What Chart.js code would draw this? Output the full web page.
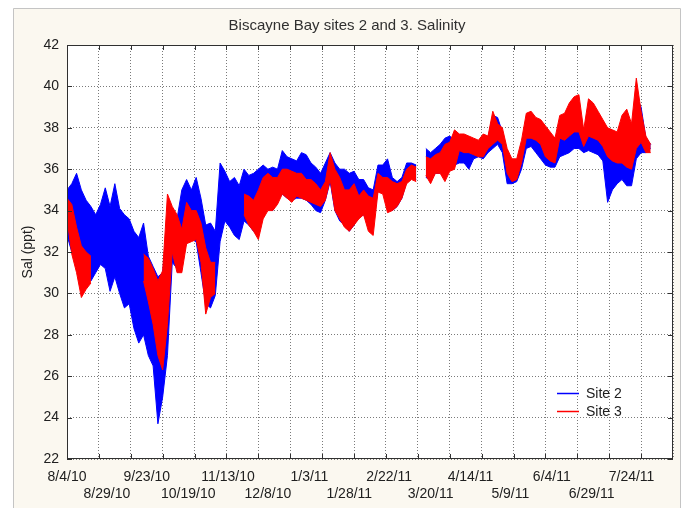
<!DOCTYPE html>
<html>
<head>
<meta charset="utf-8">
<script src="https://cdn.jsdelivr.net/npm/chart.js@4.4.0/dist/chart.umd.min.js"></script>
<style>
  html, body { margin: 0; padding: 0; background: #fff; }
  #wrap { width: 684px; height: 508px; }
</style>
</head>
<body>
<div id="wrap"><canvas id="salChart" width="684" height="508"></canvas></div>
<script>
// ---- DATA ----
// salinity (ppt), daily high / low envelope every 3 days from 8/4/10
const START_DATE = '8/4/10';
const SAMPLE_STEP_DAYS = 3;
const tickLabels = ['8/4/10','8/29/10','9/23/10','10/19/10','11/13/10','12/8/10','1/3/11','1/28/11',
  '2/22/11','3/20/11','4/14/11','5/9/11','6/4/11','6/29/11','7/24/11'];
const yTicks = [22, 24, 26, 28, 30, 32, 34, 36, 38, 40, 42];

const site2High = [
  35.0,35.3,35.8,35.0,34.5,34.2,33.8,34.3,35.1,34.2,
  35.3,34.1,33.8,33.6,33.0,32.7,33.4,31.8,31.3,30.8,
  31.0,33.5,33.8,33.6,35.0,35.5,35.0,35.6,34.6,33.3,
  33.4,33.0,36.3,35.9,35.4,35.6,35.2,36.0,35.7,35.8,
  36.0,36.2,36.0,36.1,36.0,36.9,36.6,36.5,36.4,36.8,
  36.7,36.3,36.1,35.8,36.3,36.8,36.3,36.0,36.0,35.8,
  35.9,35.5,35.5,35.1,35.0,36.2,36.2,36.5,35.6,35.4,
  35.6,36.3,36.3,36.2,null,37.0,36.8,37.0,37.2,37.5,
  37.6,37.4,37.3,37.5,37.4,37.3,37.2,37.4,37.5,38.6,
  38.5,37.8,36.8,36.3,36.2,37.0,38.0,38.3,38.0,37.8,
  37.5,37.2,37.0,37.8,37.8,38.0,38.2,38.2,37.5,38.0,
  38.0,37.8,37.6,37.0,36.8,37.0,37.2,37.0,36.8,39.5,
  39.0,37.5,37.2
];
const site2Low = [
  32.8,32.0,31.6,31.3,31.0,30.6,31.0,31.4,31.2,30.1,
  30.8,30.0,29.3,29.5,28.3,27.6,28.0,27.0,26.5,23.7,
  25.0,27.0,31.5,31.2,31.5,32.5,32.6,32.5,31.0,29.5,
  29.3,29.9,32.5,33.5,33.2,32.8,32.6,33.5,33.3,33.0,
  32.8,34.0,34.2,34.0,34.5,34.8,34.6,34.5,34.6,34.6,
  34.5,34.3,34.0,33.9,34.5,35.4,34.0,33.5,33.3,33.0,
  33.3,33.7,33.8,33.3,33.5,35.0,35.0,34.5,34.0,34.2,
  34.6,35.4,35.6,35.5,null,35.6,35.5,35.8,35.8,35.9,
  36.0,36.2,36.3,36.3,36.0,36.5,36.6,36.5,36.8,37.0,
  37.2,36.8,35.3,35.3,35.4,36.0,37.0,37.1,36.8,36.5,
  36.2,36.1,36.1,36.6,36.7,36.8,37.0,37.0,36.8,36.9,
  36.8,36.7,36.4,34.4,35.0,35.3,35.5,35.2,35.2,36.5,
  36.8,36.8,37.0
];
const site3High = [
  34.6,34.3,33.2,32.3,32.0,31.8,null,null,null,null,
  null,null,null,null,null,null,31.9,31.7,31.2,30.6,
  31.1,34.8,34.2,33.8,33.1,34.4,34.0,34.0,33.4,32.2,
  31.5,31.5,null,null,null,null,null,34.8,34.7,34.5,
  35.0,35.6,35.8,35.6,35.6,36.0,36.0,35.9,35.8,35.8,
  35.5,35.5,35.3,35.0,35.4,36.8,36.0,35.6,35.0,35.0,
  35.3,34.7,35.0,34.7,34.6,35.8,35.6,35.6,35.4,35.3,
  35.4,36.0,36.2,36.1,null,36.6,36.5,36.7,36.8,37.2,
  37.3,37.9,37.7,37.7,37.6,37.5,37.4,37.7,37.6,38.8,
  38.2,38.0,37.0,36.5,36.5,37.4,38.7,38.8,38.5,38.4,
  38.1,37.8,37.5,38.6,38.7,39.2,39.5,39.6,37.9,39.4,
  39.2,38.8,38.4,38.0,37.9,37.8,38.6,38.9,38.2,40.4,
  38.8,37.6,37.2
];
const site3Low = [
  33.6,31.9,31.0,29.8,30.2,30.5,null,null,null,null,
  null,null,null,null,null,null,30.6,29.6,28.5,27.0,
  26.3,28.5,32.0,31.0,31.0,32.4,32.5,32.6,31.5,29.0,
  29.8,30.0,null,null,null,null,null,33.8,33.3,33.0,
  32.6,33.6,34.0,34.0,34.3,34.8,34.6,34.4,34.7,34.6,
  34.5,34.4,34.3,34.2,34.5,35.5,34.0,33.6,33.2,33.0,
  33.3,33.6,33.8,33.0,32.8,34.9,34.8,33.9,34.0,34.2,
  34.6,35.3,35.5,35.4,null,35.7,35.3,35.8,35.8,35.4,
  35.9,36.0,36.9,36.8,36.8,36.7,36.6,36.6,37.0,37.2,
  37.4,37.2,35.8,35.4,35.5,36.3,37.5,37.5,37.4,37.2,
  36.6,36.4,36.3,37.5,37.4,37.6,37.8,37.8,37.1,37.6,
  37.5,37.4,37.1,36.6,36.4,36.3,36.3,36.1,36.0,37.0,
  37.3,36.8,36.8
];

// ---- HELPERS ----
const BLUE = '#0000FF';
const RED = '#FF0000';
const FONT = "'Liberation Sans', Arial, sans-serif";
const X_MAX_DAYS = 380;
const GRID_STEP_DAYS = 20;

function parseDate(s) {
  const [m, d, y] = s.split('/').map(Number);
  return new Date(2000 + y, m - 1, d);
}
function dayOffset(s) {
  return Math.round((parseDate(s) - parseDate(START_DATE)) / 86400000);
}
const tickDays = tickLabels.map(dayOffset);

function toPoints(values) {
  return values.map((v, i) => ({ x: i * SAMPLE_STEP_DAYS, y: v }));
}

function band(label, values, color, fill) {
  return {
    label,
    data: toPoints(values),
    borderColor: color,
    backgroundColor: color,
    borderWidth: 1,
    pointRadius: 0,
    tension: 0,
    fill,
    xAxisID: 'x',
    yAxisID: 'y',
  };
}

// ---- FRAME / TITLE / LEGEND PLUGIN ----
const figurePlugin = {
  id: 'figure',
  beforeDraw(chart) {
    const { ctx, chartArea: a } = chart;
    ctx.save();
    ctx.fillStyle = '#ffffff';
    ctx.fillRect(0, 0, chart.width, chart.height);
    ctx.fillStyle = '#fbf8f0';
    ctx.fillRect(13, 8, 667, 500);
    ctx.strokeStyle = '#c4c4c4';
    ctx.lineWidth = 1;
    ctx.beginPath();
    ctx.moveTo(13.5, 508); ctx.lineTo(13.5, 8.5); ctx.lineTo(680.5, 8.5); ctx.lineTo(680.5, 508);
    ctx.stroke();
    ctx.fillStyle = '#ffffff';
    ctx.fillRect(a.left, a.top, a.right - a.left, a.bottom - a.top);
    ctx.restore();
  },
  afterDraw(chart) {
    const { ctx, chartArea: a, scales } = chart;
    ctx.save();
    // plot frame
    ctx.strokeStyle = '#303030';
    ctx.lineWidth = 1;
    ctx.strokeRect(Math.round(a.left) + 0.5, Math.round(a.top) + 0.5,
      Math.round(a.right - a.left) - 1, Math.round(a.bottom - a.top) - 1);
    // inward tick marks at the grid lines
    ctx.beginPath();
    for (let d = GRID_STEP_DAYS; d < X_MAX_DAYS; d += GRID_STEP_DAYS) {
      const px = Math.round(scales.xg.getPixelForValue(d)) + 0.5;
      ctx.moveTo(px, a.bottom); ctx.lineTo(px, a.bottom - 5);
      ctx.moveTo(px, a.top); ctx.lineTo(px, a.top + 5);
    }
    yTicks.forEach(v => {
      const py = Math.round(scales.y.getPixelForValue(v)) + 0.5;
      ctx.moveTo(a.left, py); ctx.lineTo(a.left + 5, py);
      ctx.moveTo(a.right, py); ctx.lineTo(a.right - 5, py);
    });
    ctx.stroke();

    // title
    ctx.fillStyle = '#303030';
    ctx.font = `15px ${FONT}`;
    ctx.textAlign = 'center';
    ctx.textBaseline = 'middle';
    ctx.fillText('Biscayne Bay sites 2 and 3. Salinity', 347, 26);

    // legend
    ctx.font = `14px ${FONT}`;
    ctx.textAlign = 'left';
    ctx.lineWidth = 1.5;
    [['Site 2', BLUE, 393], ['Site 3', RED, 411]].forEach(([txt, col, y]) => {
      ctx.strokeStyle = col;
      ctx.beginPath();
      ctx.moveTo(557, y + 0.5); ctx.lineTo(579, y + 0.5);
      ctx.stroke();
      ctx.fillStyle = '#202020';
      ctx.fillText(txt, 586, y + 1);
    });
    ctx.restore();
  }
};

// ---- CHART ----
const canvas = document.getElementById('salChart');
new Chart(canvas, {
  type: 'line',
  data: {
    datasets: [
      band('Site 3', site3High, RED, '+1'),
      band('Site 3 low', site3Low, RED, false),
      band('Site 2', site2High, BLUE, '+1'),
      band('Site 2 low', site2Low, BLUE, false),
    ]
  },
  options: {
    responsive: false,
    animation: false,
    events: [],
    layout: { padding: { left: 0, top: 45, right: 11, bottom: 0 } },
    plugins: {
      legend: { display: false },
      title: { display: false },
      tooltip: { enabled: false },
    },
    scales: {
      x: {
        type: 'linear',
        position: 'bottom',
        min: 0,
        max: X_MAX_DAYS,
        afterBuildTicks: s => { s.ticks = tickDays.map(v => ({ value: v })); },
        afterFit: s => { s.height = 49; },
        grid: { display: false },
        border: { display: false },
        ticks: {
          autoSkip: false,
          maxRotation: 0,
          padding: 2,
          color: '#202020',
          font: { family: FONT, size: 14 },
          callback: (v, i) => i % 2 ? ['', tickLabels[i]] : tickLabels[i],
        }
      },
      xg: {
        type: 'linear',
        position: 'top',
        min: 0,
        max: X_MAX_DAYS,
        afterFit: s => { s.height = 0; },
        ticks: { display: false, stepSize: GRID_STEP_DAYS },
        grid: { color: '#7a7a7a', drawTicks: false },
        border: { display: false, dash: [1, 2] },
      },
      y: {
        min: 22,
        max: 42,
        afterFit: s => { s.width = 67; },
        afterBuildTicks: s => { s.ticks = yTicks.map(v => ({ value: v })); },
        grid: { color: '#7a7a7a', drawTicks: false },
        border: { display: false, dash: [1, 2] },
        ticks: {
          padding: 8,
          color: '#202020',
          font: { family: FONT, size: 14 },
        },
        title: {
          display: true,
          text: 'Sal (ppt)',
          color: '#202020',
          font: { family: FONT, size: 14 },
          padding: { top: 20, bottom: 0 },
        }
      }
    }
  },
  plugins: [figurePlugin]
});
</script>
</body>
</html>
